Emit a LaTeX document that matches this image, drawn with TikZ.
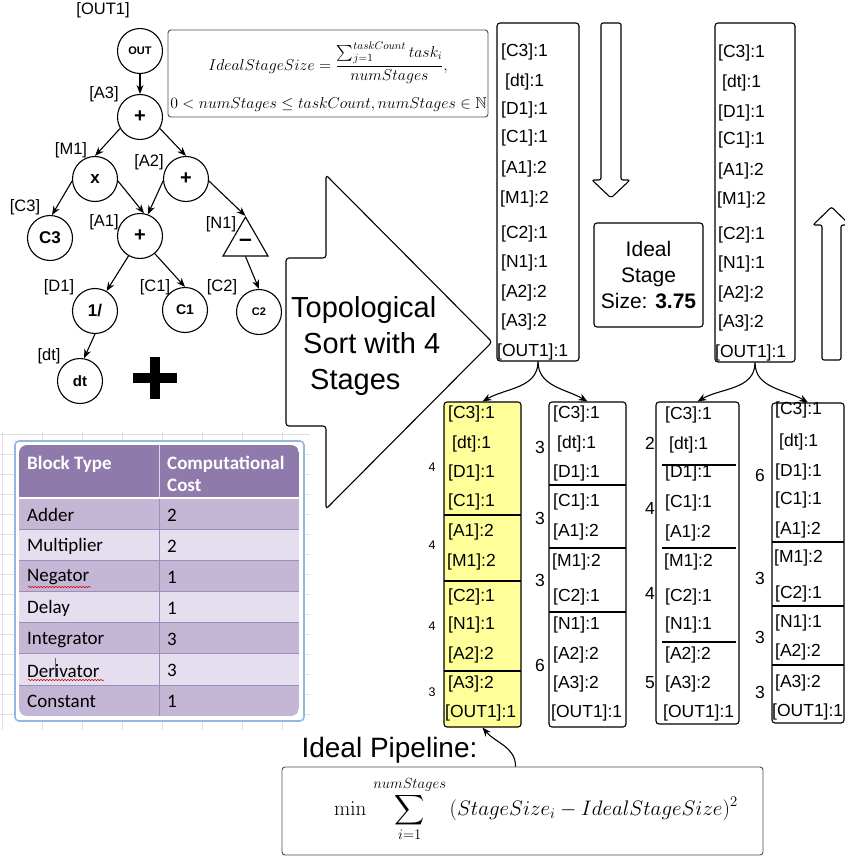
\RequirePackage{fix-cm}
\documentclass[tikz,border=0pt]{standalone}
\usepackage{amssymb}
\usepackage[no-math]{fontspec}
\setmainfont{Liberation Sans}
\newfontfamily\calibri{Carlito}
\usetikzlibrary{shapes.geometric,arrows.meta,decorations.pathmorphing}

\definecolor{hdr}{RGB}{143,122,172}
\definecolor{rowdark}{RGB}{196,183,214}
\definecolor{rowlight}{RGB}{229,222,238}
\definecolor{rowline}{RGB}{160,140,188}
\definecolor{selblue}{RGB}{150,182,226}
\definecolor{hilite}{RGB}{255,255,153}

\newcommand\fsz[1]{\fontsize{#1}{#1}\selectfont}
% one column of task entries: prefix, left x, list of text/y/x-offset
\newcommand\stagelist[3]{%
  \foreach \lab/\yy/\dx [count=\k] in {#3}
    {\node[entry] (#1-\k) at (#2+\dx,\yy) {\lab};}}

\begin{document}
\begin{tikzpicture}[x=1pt,y=-1pt,
  every node/.style={inner sep=0pt},
  arr/.style={-{Stealth[length=9pt,width=7pt]}, line width=1.1pt},
  blk/.style={circle, draw, line width=1.1pt, minimum size=45pt, font=\bfseries},
  tag/.style={font=\fsz{16.5}},
  entry/.style={anchor=west, font=\fsz{17.5}},
  stagebox/.style={draw, line width=1.1pt, rounded corners=3pt},
  sep/.style={line width=1.1pt},
  cnt/.style={font=\fsz{17.5}},
  cntsmall/.style={font=\fsz{12.5}},
  cell/.style={anchor=west, font=\calibri\fsz{19}},
  hcell/.style={anchor=west, font=\calibri\bfseries\fsz{19}, text=white, align=left},
  fbox/.style={draw=black!70, line width=0.9pt, rounded corners=3pt},
  hollow/.style={draw, line width=1.1pt, rounded corners=2pt, fill=white}
]
\useasboundingbox (0,0) rectangle (845,856);

% ---------------- expression tree ----------------
\node[blk, font=\bfseries\fsz{11}] (out) at (140,51) {OUT};
\node[blk, font=\bfseries\fsz{20}] (a3) at (140,117) {+};
\node[blk, font=\bfseries\fsz{17}] (m1) at (95,179) {x};
\node[blk, font=\bfseries\fsz{20}] (a2) at (186,179) {+};
\node[blk, font=\bfseries\fsz{17}] (c3) at (50,238) {C3};
\node[blk, font=\bfseries\fsz{20}] (a1) at (140,236) {+};
\node[regular polygon, regular polygon sides=3, draw, line width=1.1pt,
      minimum size=52pt, font=\bfseries\fsz{23}] (n1) at (245.5,243) {--};
\node[blk, font=\bfseries\fsz{17}] (d1) at (95,311) {1/};
\node[blk, font=\bfseries\fsz{14}] (c1) at (185,310) {C1};
\node[blk, font=\bfseries\fsz{11}] (c2) at (259,312) {C2};
\node[blk, font=\bfseries\fsz{15}] (dt) at (80,381) {dt};

\node[tag] (t-out) at (103,10) {[OUT1]};
\node[tag] (t-a3) at (104,94) {[A3]};
\node[tag] (t-m1) at (71,150) {[M1]};
\node[tag] (t-a2) at (149,162) {[A2]};
\node[tag] (t-c3) at (25,207) {[C3]};
\node[tag] (t-a1) at (104,222) {[A1]};
\node[tag] (t-n1) at (221,224) {[N1]};
\node[tag] (t-d1) at (59,287) {[D1]};
\node[tag] (t-c1) at (155,287) {[C1]};
\node[tag] (t-c2) at (222,287) {[C2]};
\node[tag] (t-dt) at (49,356) {[dt]};

\draw[arr] (out) -- (a3);
\draw[arr] (a3.210) -- (m1.north);
\draw[arr] (a3.-30) -- (a2.north);
\draw[arr] (m1.185) -- (c3.85);
\draw[arr] (m1.-5) -- (a1.80);
\draw[arr] (a2.185) -- (a1.70);
\draw[arr] (a2.-5) -- (n1.corner 1);
\draw[arr] (a1.240) -- (d1.60);
\draw[arr] (a1.-50) -- (c1.north);
\draw[arr] (n1.side 2) -- (c2.north);
\draw[arr] (d1.south) -- (dt.80);

% heavy plus sign
\fill (133,373) rectangle (177,383);
\fill (150,357) rectangle (160,399);

% ---------------- ideal stage size formula ----------------
\node[fbox, minimum width=320pt, minimum height=87pt] (ideal) at (328,73.5) {};
\node[font=\fsz{15.8}] (idealtop) at (328,63)
  {$\displaystyle IdealStageSize=\frac{\sum_{j=1}^{taskCount}task_i}{numStages},$};
\node[font=\fsz{15.8}] (idealbot) at (328.5,105)
  {$0<numStages\leq taskCount, numStages\in\mathbb{N}$};

% ---------------- topological sort arrow ----------------
\draw[line width=1.1pt, rounded corners=3pt]
  (286,258) -- (326,258) -- (326,175) -- (492,342) -- (326,509)
  -- (326,426) -- (286,426) -- cycle;
\node[anchor=west, align=left, font=\fsz{29}] (topo) at (291,346)
  {Topological\\[7pt]\hspace*{12pt}Sort with 4\\[7pt]\hspace*{19pt}Stages};

% ---------------- full task order (left and right) ----------------
\node[stagebox, minimum width=82pt, minimum height=338pt] (s1) at (538,192) {};
\stagelist{s1e}{501}{[C3]:1/52/0,[dt]:1/82/4,[D1]:1/110/0,[C1]:1/138/0,[A1]:2/169/0,[M1]:2/199/-1,[C2]:1/234/0,[N1]:1/263/0,[A2]:2/293/0,[A3]:2/322/0,[OUT1]:1/352/-4}

\node[stagebox, minimum width=80pt, minimum height=339pt] (s2) at (755,192.5) {};
\stagelist{s2e}{718}{[C3]:1/53/0,[dt]:1/83/4,[D1]:1/113/0,[C1]:1/140/0,[A1]:2/171/0,[M1]:2/200/-1,[C2]:1/235/0,[N1]:1/264/0,[A2]:2/294/0,[A3]:2/323/0,[OUT1]:1/353/-3}

% scan direction arrows
\draw[hollow] (601,23) -- (621,23) -- (621,180) -- (630,180) -- (611,198)
  -- (592,180) -- (601,180) -- cycle;
\draw[hollow] (822,360) -- (822,225) -- (813,225) -- (831.5,207) -- (850,225)
  -- (841,225) -- (841,360) -- cycle;

\node[stagebox, minimum width=109pt, minimum height=104pt, align=center,
      font=\fsz{21}] (isz) at (648.5,275)
  {Ideal\\[5pt]Stage\\[5pt]Size: \textbf{3.75}};

% ---------------- candidate partitions ----------------
\node[stagebox, fill=hilite, minimum width=77pt, minimum height=325pt] (sa) at (482.5,564.5) {};
\node[stagebox, minimum width=77pt, minimum height=325pt] (sb) at (587.5,564.5) {};
\node[stagebox, minimum width=83pt, minimum height=322pt] (sc) at (697.5,563) {};
\node[stagebox, minimum width=72pt, minimum height=320pt] (sd) at (808,563) {};

\stagelist{sae}{448}{[C3]:1/414/0,[dt]:1/444/4,[D1]:1/473/0,[C1]:1/502/0,[A1]:2/532/0,[M1]:2/562/-1,[C2]:1/597/0,[N1]:1/625/0,[A2]:2/655/0,[A3]:2/684/0,[OUT1]:1/713/-3}
\stagelist{sbe}{553}{[C3]:1/414/0,[dt]:1/444/4,[D1]:1/473/0,[C1]:1/502/0,[A1]:2/532/0,[M1]:2/562/-1,[C2]:1/597/0,[N1]:1/625/0,[A2]:2/655/0,[A3]:2/684/0,[OUT1]:1/713/-2}
\stagelist{sce}{665}{[C3]:1/415/0,[dt]:1/445/4,[D1]:1/473/0,[C1]:1/503/0,[A1]:2/533/0,[M1]:2/562/-1,[C2]:1/597/0,[N1]:1/625/0,[A2]:2/655/0,[A3]:2/684/0,[OUT1]:1/713/-2}
\stagelist{sde}{775}{[C3]:1/410/0,[dt]:1/442/4,[D1]:1/472/0,[C1]:1/500/0,[A1]:2/530/0,[M1]:2/558/-1,[C2]:1/594/0,[N1]:1/623/0,[A2]:2/652/0,[A3]:2/683/0,[OUT1]:1/712/-3}

% stage boundaries
\foreach \yy in {515,581,671} \draw[sep] (444,\yy) -- (521,\yy);
\foreach \yy in {485,548,612} \draw[sep] (549,\yy) -- (626,\yy);
\foreach \yy in {465,548,642} \draw[sep] (662,\yy) -- (736,\yy);
\foreach \yy in {542,606,665} \draw[sep] (772,\yy) -- (844,\yy);

% stage sizes
\node[cntsmall] (ka1) at (432,467) {4};
\node[cntsmall] (ka2) at (432,545) {4};
\node[cntsmall] (ka3) at (432,626) {4};
\node[cntsmall] (ka4) at (432,692) {3};
\node[cnt] (kb1) at (540,447) {3};
\node[cnt] (kb2) at (540,518) {3};
\node[cnt] (kb3) at (540,580) {3};
\node[cnt] (kb4) at (540,665) {6};
\node[cnt] (kc1) at (650,443) {2};
\node[cnt] (kc2) at (650,508) {4};
\node[cnt] (kc3) at (650,593) {4};
\node[cnt] (kc4) at (650,683) {5};
\node[cnt] (kd1) at (760,475) {6};
\node[cnt] (kd2) at (760,578) {3};
\node[cnt] (kd3) at (760,637) {3};
\node[cnt] (kd4) at (760,692) {3};

\draw[arr] (s1.south) to[out=-90, in=30] (sa.north);
\draw[arr] (s1.south) to[out=-90, in=150] (sb.north);
\draw[arr] (s2.south) to[out=-90, in=30] (sc.north);
\draw[arr] (s2.south) to[out=-90, in=150] (sd.north);

% ---------------- ideal pipeline objective ----------------
\node[font=\fsz{28}] (pipelbl) at (389.5,750) {Ideal Pipeline:};
\node[fbox, minimum width=481pt, minimum height=88pt] (pipebox) at (522.5,811) {};
\node[font=\fsz{21}] (pipeform) at (536,809)
  {$\displaystyle \min\,\sum_{i=1}^{numStages}\,(StageSize_i-IdealStageSize)^2$};
\draw[arr] ([xshift=234pt]pipebox.north west) to[out=90, in=-50] (sa.south);

% ---------------- block cost table ----------------
\foreach \gx in {2,42,82,122,162,202,242,282}
  \draw[black!12, line width=0.5pt] (\gx,432) -- (\gx,730);
\foreach \gy in {434,454,474,494,514,534,554,574,594,614,634,654,674,694,714}
  \draw[black!12, line width=0.5pt] (0,\gy) -- (310,\gy);
\draw[selblue, line width=1.6pt, fill=white, rounded corners=4pt] (15,441) rectangle (304,721);
\begin{scope}
  \clip[rounded corners=8pt] (19,445) rectangle (299,716);
  \fill[hdr] (19,445) rectangle (299,498);
  \foreach \r/\c in {0/rowdark,1/rowlight,2/rowdark,3/rowlight,4/rowdark,5/rowlight,6/rowdark}
    \fill[\c] (19,{498+31.143*\r}) rectangle (299,{498+31.143*(\r+1)});
  \foreach \r in {1,...,6}
    \draw[rowline, line width=0.7pt] (19,{498+31.143*\r}) -- (299,{498+31.143*\r});
  \draw[white, line width=2pt] (19,498) -- (299,498);
  \draw[rowline, line width=0.7pt] (159,499) -- (159,716);
  \draw[white!70!hdr, line width=0.5pt] (159,445) -- (159,497);
\end{scope}
\node[hcell] (h1) at (27,464) {Block Type};
\node[hcell] (h2) at (167,474) {Computational\\[3pt]Cost};
\foreach \nm/\val [count=\r from 0] in {Adder/2,Multiplier/2,Negator/1,Delay/1,Integrator/3,Derivator/3,Constant/1}{
  \node[cell] (tb-\r) at (27,{515+31.143*\r}) {\nm};
  \node[cell] (tv-\r) at (167,{515+31.143*\r}) {\val};
}
% spell-check marks and text cursor
\draw[red!80!black, line width=0.5pt, decorate, decoration={snake, amplitude=0.7pt, segment length=3pt}]
  (28,587) -- (91,587);
\draw[red!80!black, line width=0.5pt, decorate, decoration={snake, amplitude=0.7pt, segment length=3pt}]
  (28,680) -- (104,680);
\draw[black!60, line width=0.5pt] (55,658) -- (55,677);
\end{tikzpicture}
\end{document}
